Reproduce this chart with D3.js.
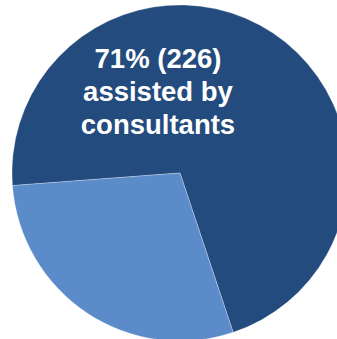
<!DOCTYPE html>
<html>
<head>
<meta charset="utf-8">
<script src="https://cdn.jsdelivr.net/npm/d3@7"></script>
<style>
  body { margin: 0; background: #fff; }
  svg { display: block; }
</style>
</head>
<body>
<svg width="337" height="339"></svg>
<script>
var categories = ["assisted by consultants", "not assisted"];
var values = [226, 92];
var colors = ["#234b7e", "#5b8bc8"];
var labelLines = ["71% (226)", "assisted by", "consultants"];

var svg = d3.select("svg"),
    cx = 180, cy = 173, radius = 168;

var g = svg.append("g").attr("transform", "translate(" + cx + "," + cy + ")");

var startDeg = -94.3;
var pie = d3.pie()
    .sort(null)
    .startAngle(startDeg * Math.PI / 180)
    .endAngle((startDeg + 360) * Math.PI / 180)
    .value(function(d) { return d; });

var arc = d3.arc().innerRadius(0).outerRadius(radius);

g.selectAll("path")
    .data(pie(values))
  .enter().append("path")
    .attr("d", arc)
    .attr("fill", function(d, i) { return colors[i]; })
    .attr("stroke", "#ffffff")
    .attr("stroke-opacity", 0.35)
    .attr("stroke-width", 0.8);

var label = svg.append("text")
    .attr("x", 158)
    .attr("y", 68)
    .attr("text-anchor", "middle")
    .attr("fill", "#fff")
    .style("font-family", "Arial, 'Liberation Sans', sans-serif")
    .style("font-weight", "bold")
    .style("font-size", "27.5px");

label.selectAll("tspan")
    .data(labelLines)
  .enter().append("tspan")
    .attr("x", 158)
    .attr("dy", function(d, i) { return i === 0 ? 0 : 33; })
    .text(function(d) { return d; });
</script>
</body>
</html>
